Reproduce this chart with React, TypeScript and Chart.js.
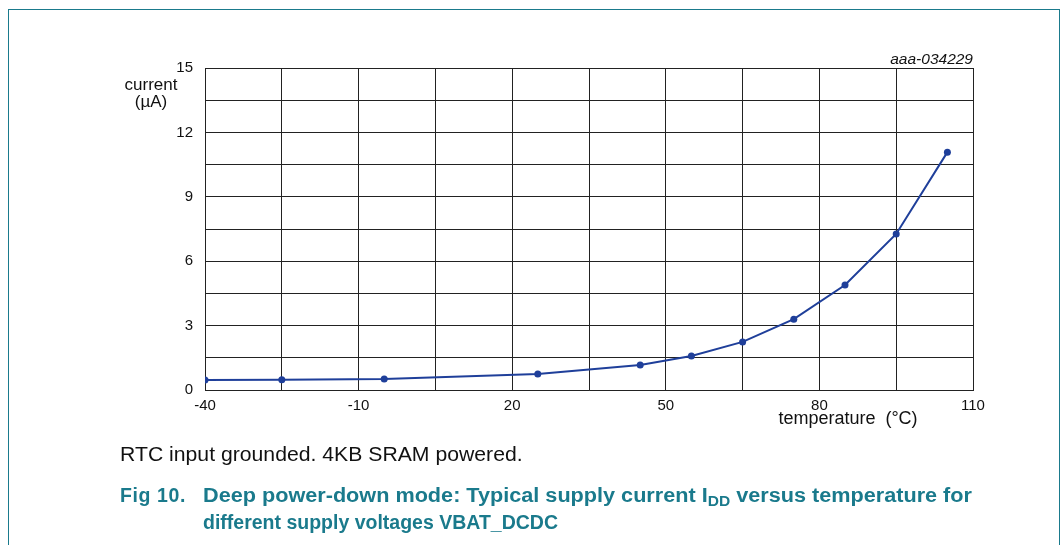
import React, { useEffect, useRef } from "react";
import { Chart, registerables } from "chart.js";

Chart.register(...registerables);

const temperatures = [-40, -25, -5, 25, 45, 55, 65, 75, 85, 95, 105];
const currents = [0.47, 0.48, 0.51, 0.75, 1.16, 1.58, 2.24, 3.3, 4.89, 7.27, 11.08];
const xLabelValues = [-40, -10, 20, 50, 80, 110];
const yLabelValues = [0, 3, 6, 9, 12, 15];

const FONT = "'Liberation Sans', Arial, sans-serif";
const TEAL = "#1a7a8c";

export default function App() {
  const ref = useRef<HTMLCanvasElement | null>(null);

  useEffect(() => {
    if (!ref.current) return;
    const chart = new Chart(ref.current, {
      type: "line",
      data: {
        datasets: [
          {
            data: temperatures.map((t, i) => ({ x: t, y: currents[i] })),
            borderColor: "#1f3f9a",
            backgroundColor: "#1f3f9a",
            borderWidth: 2,
            pointRadius: 3.5,
            pointBackgroundColor: "#1f3f9a",
            pointBorderWidth: 0,
            tension: 0,
          },
        ],
      },
      options: {
        animation: false,
        responsive: false,
        maintainAspectRatio: false,
        layout: { padding: { top: 68, right: 90, left: 0, bottom: 0 } },
        plugins: { legend: { display: false }, tooltip: { enabled: false } },
        scales: {
          x: {
            type: "linear",
            min: -40,
            max: 110,
            afterFit: (s: any) => {
              s.height = 155;
            },
            ticks: {
              stepSize: 15,
              padding: 7,
              color: "#111",
              font: { family: FONT, size: 15 },
              maxRotation: 0,
              autoSkip: false,
              callback: (v: any) => (xLabelValues.includes(Math.round(Number(v))) ? String(Math.round(Number(v))) : ""),
            },
            grid: { color: "#222", lineWidth: 1, drawTicks: false },
            border: { color: "#222", width: 1 },
          },
          y: {
            type: "linear",
            min: 0,
            max: 15,
            afterFit: (s: any) => {
              s.width = 205;
            },
            ticks: {
              stepSize: 1.5,
              padding: 12,
              color: "#111",
              font: { family: FONT, size: 15 },
              autoSkip: false,
              callback: (v: any) => {
                const n = Number(v);
                const r = Math.round(n);
                return Math.abs(n - r) < 1e-6 && yLabelValues.includes(r) ? String(r) : "";
              },
            },
            grid: { color: "#222", lineWidth: 1, drawTicks: false },
            border: { color: "#222", width: 1 },
          },
        },
      },
    });
    return () => chart.destroy();
  }, []);

  const abs = (x: number, y: number, extra: React.CSSProperties = {}): React.CSSProperties => ({
    position: "absolute",
    left: x,
    top: y,
    whiteSpace: "nowrap",
    fontFamily: FONT,
    ...extra,
  });

  return (
    <div style={{ position: "fixed", left: 0, top: 0, width: 1063, height: 545, background: "#fff", overflow: "hidden" }}>
      <div style={{ position: "absolute", left: 8, top: 9, width: 1052, height: 600, border: `1.5px solid ${TEAL}`, boxSizing: "border-box" }} />
      <canvas ref={ref} width={1063} height={545} style={{ position: "absolute", left: 0, top: 0 }} />
      <div style={abs(101, 76, { width: 100, textAlign: "center", fontSize: 17, lineHeight: "17px", color: "#111" })}>
        current
        <br />
        (µA)
      </div>
      <div style={abs(738, 408, { width: 220, textAlign: "center", fontSize: 18, lineHeight: "20px", color: "#111" })}>
        temperature&nbsp;&nbsp;(°C)
      </div>
      <div style={abs(773, 50, { width: 200, textAlign: "right", fontSize: 15.5, lineHeight: "18px", fontStyle: "italic", color: "#111" })}>
        aaa-034229
      </div>
      <div
        style={abs(120, 442, {
          fontSize: 20,
          lineHeight: "24px",
          color: "#111",
          transform: "scaleX(1.06)",
          transformOrigin: "left center",
        })}
      >
        RTC input grounded. 4KB SRAM powered.
      </div>
      <div style={abs(120, 482, { fontSize: 19.5, lineHeight: "26px", fontWeight: "bold", color: TEAL, letterSpacing: 0.6 })}>Fig 10.</div>
      <div
        style={abs(203, 482, {
          fontSize: 19.5,
          lineHeight: "26px",
          fontWeight: "bold",
          color: TEAL,
          transform: "scaleX(1.11)",
          transformOrigin: "left center",
        })}
      >
        Deep power-down mode: Typical supply current I<sub style={{ fontSize: 14, lineHeight: 0, verticalAlign: "-4px" }}>DD</sub> versus temperature for
      </div>
      <div style={abs(203, 509, { fontSize: 19.5, lineHeight: "26px", fontWeight: "bold", color: TEAL })}>
        different supply voltages VBAT_DCDC
      </div>
    </div>
  );
}
